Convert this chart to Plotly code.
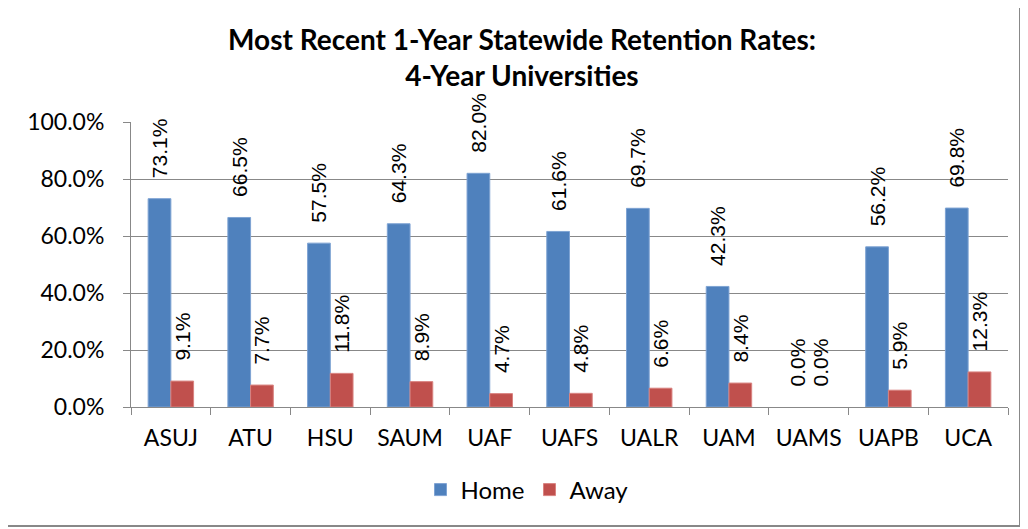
import plotly.graph_objects as go

categories = ["ASUJ", "ATU", "HSU", "SAUM", "UAF", "UAFS", "UALR", "UAM", "UAMS", "UAPB", "UCA"]
home = [0.731, 0.665, 0.575, 0.643, 0.820, 0.616, 0.697, 0.423, 0.0, 0.562, 0.698]
away = [0.091, 0.077, 0.118, 0.089, 0.047, 0.048, 0.066, 0.084, 0.0, 0.059, 0.123]
y_ticks = [0, 0.2, 0.4, 0.6, 0.8, 1.0]

OFF = 8  # page body margin
W, H = 1028 - OFF, 529 - OFF
L = 131 - OFF
T = 122 - OFF
pw, ph = 877, 285
R = W - L - pw
B = H - T - ph

def py(page_y):
    return (T + ph - (page_y - OFF)) / ph

def px(page_x):
    return (page_x - OFF - L) / pw

fig = go.Figure()
for name, vals, col, lc in [("Home", home, "#4F81BD", "#7EA3D3"), ("Away", away, "#C0504D", "#D98380")]:
    fig.add_trace(go.Bar(
        x=categories, y=vals, name=name,
        marker=dict(color=col, line=dict(color=lc, width=[1 if v > 0 else 0 for v in vals])),
        text=["\u00a0\u00a0\u00a0" + f"{v*100:.1f}%" for v in vals],
        textposition="outside", textangle=-90,
        textfont=dict(family="Liberation Sans, Arial", size=21, color="#000"),
        cliponaxis=False, constraintext="none",
    ))

fig.update_layout(
    width=W, height=H,
    margin=dict(l=L, r=R, t=T, b=B),
    paper_bgcolor="white", plot_bgcolor="white",
    barmode="group", bargap=0.43, bargroupgap=0,
    title=dict(text="<b>Most Recent 1-Year Statewide Retention Rates:<br>4-Year Universities</b>",
               x=(522 - OFF) / W, xanchor="center", y=1 - (50 - OFF) / H, yanchor="middle",
               font=dict(family="Lato, Calibri", size=28, color="#000")),
    font=dict(family="Lato, Calibri", size=22, color="#000"),
    showlegend=True,
    legend=dict(orientation="h", x=px(527), xanchor="center", y=py(490), yanchor="middle",
                font=dict(family="Lato, Calibri", size=24, color="#000"), itemwidth=30),
)
fig.update_xaxes(showline=True, linecolor="#888", linewidth=1, ticks="outside", ticklen=7,
                 tickcolor="#888", tickson="boundaries", showgrid=False, ticklabelstandoff=10,
                 tickfont=dict(family="Lato, Calibri", size=23, color="#000"))
fig.update_yaxes(range=[0, 1.0], tickvals=y_ticks, tickformat=".1%", showline=True, linecolor="#888",
                 linewidth=1, ticks="outside", ticklen=7, tickcolor="#888", showgrid=True,
                 gridcolor="#888", gridwidth=1, zeroline=False, ticklabelstandoff=14,
                 tickfont=dict(family="Lato, Calibri", size=23, color="#000"))

fig.add_shape(type="rect", xref="paper", yref="paper",
              x0=px(6), x1=px(1020), y0=py(526), y1=py(3),
              line=dict(color="#888", width=2), fillcolor="rgba(0,0,0,0)", layer="below")

fig.write_html("out.html")
